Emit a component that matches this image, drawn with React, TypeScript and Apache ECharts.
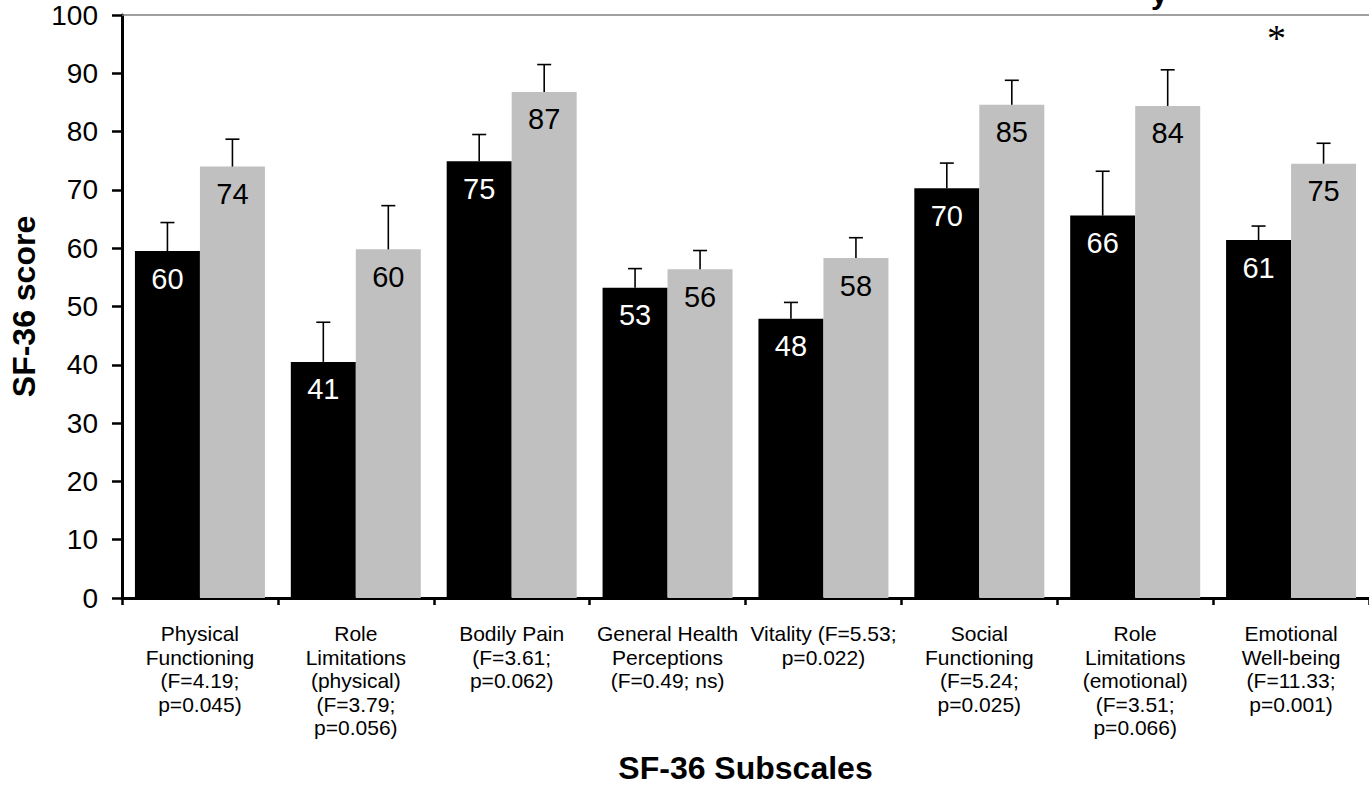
import React, { useEffect, useRef } from "react";
import * as echarts from "echarts";

const categories = [
  "Physical\nFunctioning\n(F=4.19;\np=0.045)",
  "Role\nLimitations\n(physical)\n(F=3.79;\np=0.056)",
  "Bodily Pain\n(F=3.61;\np=0.062)",
  "General Health\nPerceptions\n(F=0.49; ns)",
  "Vitality (F=5.53;\np=0.022)",
  "Social\nFunctioning\n(F=5.24;\np=0.025)",
  "Role\nLimitations\n(emotional)\n(F=3.51;\np=0.066)",
  "Emotional\nWell-being\n(F=11.33;\np=0.001)",
];

const groupA = [59.5, 40.5, 74.9, 53.2, 47.9, 70.3, 65.6, 61.4];
const groupB = [74.0, 59.8, 86.8, 56.4, 58.3, 84.6, 84.4, 74.5];
const errorsA = [4.9, 6.8, 4.6, 3.3, 2.8, 4.3, 7.6, 2.4];
const errorsB = [4.7, 7.5, 4.7, 3.2, 3.5, 4.2, 6.2, 3.5];

const yTicks = { min: 0, max: 100, interval: 10 };
const significance = { category: 7, value: 96.6, mark: "*" };

const FONT = "'Liberation Sans', Arial, sans-serif";
const BAR_W = 65;

function errorSeries(vals: number[], errs: number[], offset: number) {
  return {
    type: "custom",
    xAxisIndex: 0,
    yAxisIndex: 0,
    z: 10,
    silent: true,
    data: vals.map((v, i) => [i, v, v + errs[i]]),
    encode: { x: 0, y: [1, 2] },
    renderItem: (params: any, api: any) => {
      const base = api.coord([api.value(0), api.value(1)]);
      const top = api.coord([api.value(0), api.value(2)]);
      const x = base[0] + offset;
      return {
        type: "group",
        children: [
          {
            type: "line",
            shape: { x1: x, y1: base[1], x2: x, y2: top[1] },
            style: { stroke: "#000", lineWidth: 1.6 },
          },
          {
            type: "line",
            shape: { x1: x - 7, y1: top[1], x2: x + 7, y2: top[1] },
            style: { stroke: "#000", lineWidth: 1.6 },
          },
        ],
      };
    },
  };
}

export default function App() {
  const ref = useRef<HTMLDivElement>(null);

  useEffect(() => {
    if (!ref.current) return;
    const chart = echarts.init(ref.current, undefined, { renderer: "svg" });
    chart.setOption({
      animation: false,
      backgroundColor: "#fff",
      textStyle: { fontFamily: FONT },
      title: {
        text: "y",
        left: 1146,
        top: -27,
        textStyle: { fontFamily: FONT, fontWeight: "bold", fontSize: 30, color: "#000" },
      },
      grid: { left: 118, top: 15, width: 1255, height: 586, containLabel: false },
      xAxis: [
        {
          type: "category",
          data: categories,
          position: "bottom",
          axisLine: { lineStyle: { color: "#000", width: 3 } },
          axisTick: { show: true, length: 7, lineStyle: { color: "#000", width: 2.5 } },
          axisLabel: {
            interval: 0,
            margin: 24,
            color: "#000",
            fontSize: 21,
            lineHeight: 23.5,
            fontFamily: FONT,
            align: "center",
          },
          name: "SF-36 Subscales",
          nameLocation: "middle",
          nameGap: 154,
          nameTextStyle: { fontSize: 32, fontWeight: "bold", color: "#000", fontFamily: FONT },
        },
        {
          type: "category",
          data: categories,
          position: "top",
          axisLine: { lineStyle: { color: "#808080", width: 1.5 } },
          axisTick: { show: false },
          axisLabel: { show: false },
        },
      ],
      yAxis: {
        type: "value",
        min: yTicks.min,
        max: yTicks.max,
        interval: yTicks.interval,
        axisLine: { show: true, lineStyle: { color: "#000", width: 3 } },
        axisTick: { show: true, length: 10, lineStyle: { color: "#000", width: 2.5 } },
        splitLine: { show: false },
        axisLabel: { color: "#000", fontSize: 28, margin: 24, fontFamily: FONT },
        name: "SF-36 score",
        nameLocation: "middle",
        nameGap: 82,
        nameTextStyle: { fontSize: 32, fontWeight: "bold", color: "#000", fontFamily: FONT },
      },
      series: [
        {
          type: "bar",
          data: groupA,
          barWidth: BAR_W,
          barGap: "0%",
          itemStyle: { color: "#000" },
          label: {
            show: true,
            position: "insideTop",
            distance: 13,
            color: "#fff",
            fontSize: 29,
            fontFamily: FONT,
            formatter: (p: any) => String(Math.round(p.value)),
          },
        },
        {
          type: "bar",
          data: groupB,
          barWidth: BAR_W,
          barGap: "0%",
          itemStyle: { color: "#c0c0c0" },
          label: {
            show: true,
            position: "insideTop",
            distance: 13,
            color: "#000",
            fontSize: 29,
            fontFamily: FONT,
            formatter: (p: any) => String(Math.round(p.value)),
          },
          markPoint: {
            symbol: "circle",
            symbolSize: 0,
            silent: true,
            data: [
              {
                coord: [significance.category, significance.value],
                label: {
                  show: true,
                  formatter: significance.mark,
                  offset: [-47, 3],
                  color: "#000",
                  fontSize: 38,
                  fontFamily: "'Liberation Serif', 'Times New Roman', serif",
                },
              },
            ],
          },
        },
        errorSeries(groupA, errorsA, -BAR_W / 2),
        errorSeries(groupB, errorsB, BAR_W / 2),
      ],
    });
    return () => chart.dispose();
  }, []);

  return (
    <div
      ref={ref}
      style={{ position: "fixed", left: 0, top: 0, width: 1369, height: 789, background: "#fff" }}
    />
  );
}
